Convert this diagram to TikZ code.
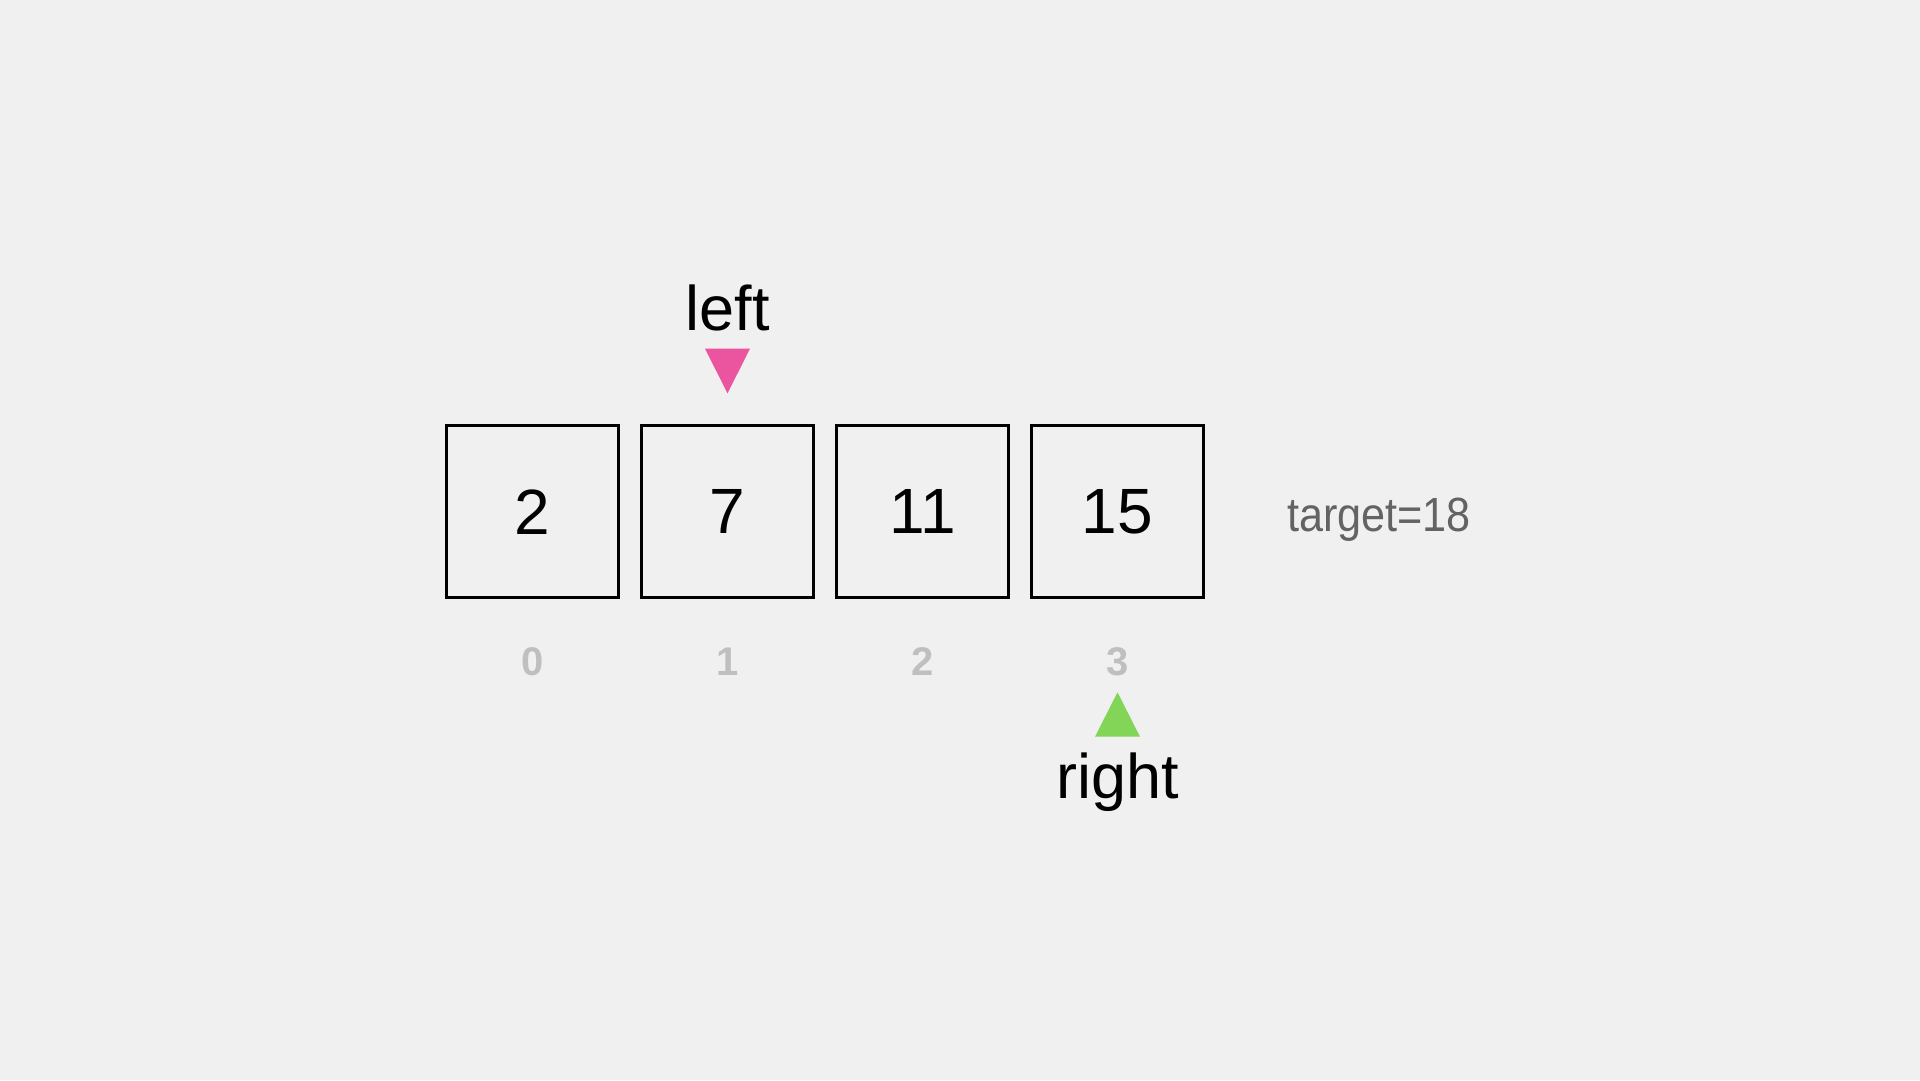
\documentclass[tikz,border=0pt]{standalone}
\usepackage{fontspec}
\usepackage{graphicx}
\setmainfont{Liberation Sans}
\usetikzlibrary{calc}
\definecolor{bgc}{HTML}{F0F0F0}
\definecolor{idxgray}{HTML}{BFBFBF}
\definecolor{tgray}{HTML}{636363}
\definecolor{pinkc}{HTML}{EB559F}
\definecolor{greenc}{HTML}{82D556}
\begin{document}
\begin{tikzpicture}[x=1pt,y=-1pt,
  cell/.style={draw=black, line width=3pt, minimum width=172pt, minimum height=172pt, inner sep=0pt, font=\fontsize{64}{64}\selectfont, text=black},
  idx/.style={font=\fontsize{40}{40}\selectfont\bfseries, text=idxgray, anchor=base, inner sep=0pt},
  ptr/.style={font=\fontsize{63}{63}\selectfont, text=black, anchor=base, inner sep=0pt}]
\fill[bgc] (0,0) rectangle (1920,1080);
\useasboundingbox (0,0) rectangle (1920,1080);
\node[cell] (b0) at (532.5,511.7) {2};
\node[cell] (b1) at (727.5,511) {7};
\node[cell] (b2) at (922.5,511) {11};
\node[cell] (b3) at (1117.5,511.5) {15};
\node[idx] (i0) at (532.5,675) {0};
\node[idx] (i1) at (727.5,675) {1};
\node[idx] (i2) at (922.5,675) {2};
\node[idx] (i3) at (1117.5,675) {3};
\node[ptr] (lt) at (727.5,330) {left};
\node[ptr] (rt) at (1117.5,798) {right};
\fill[pinkc] ($(b1.center)+(-22.5,-162.3)$) -- ($(b1.center)+(22.5,-162.3)$) -- ($(b1.center)+(0,-117.7)$) -- cycle;
\fill[greenc] ($(b3.center)+(-22.5,225.2)$) -- ($(b3.center)+(22.5,225.2)$) -- ($(b3.center)+(0,180.8)$) -- cycle;
\node[anchor=base west, inner sep=0pt, font=\fontsize{48}{48}\selectfont, text=tgray] (tg) at (1287,531.7) {\scalebox{0.9}[1]{target=18}};
\end{tikzpicture}
\end{document}
